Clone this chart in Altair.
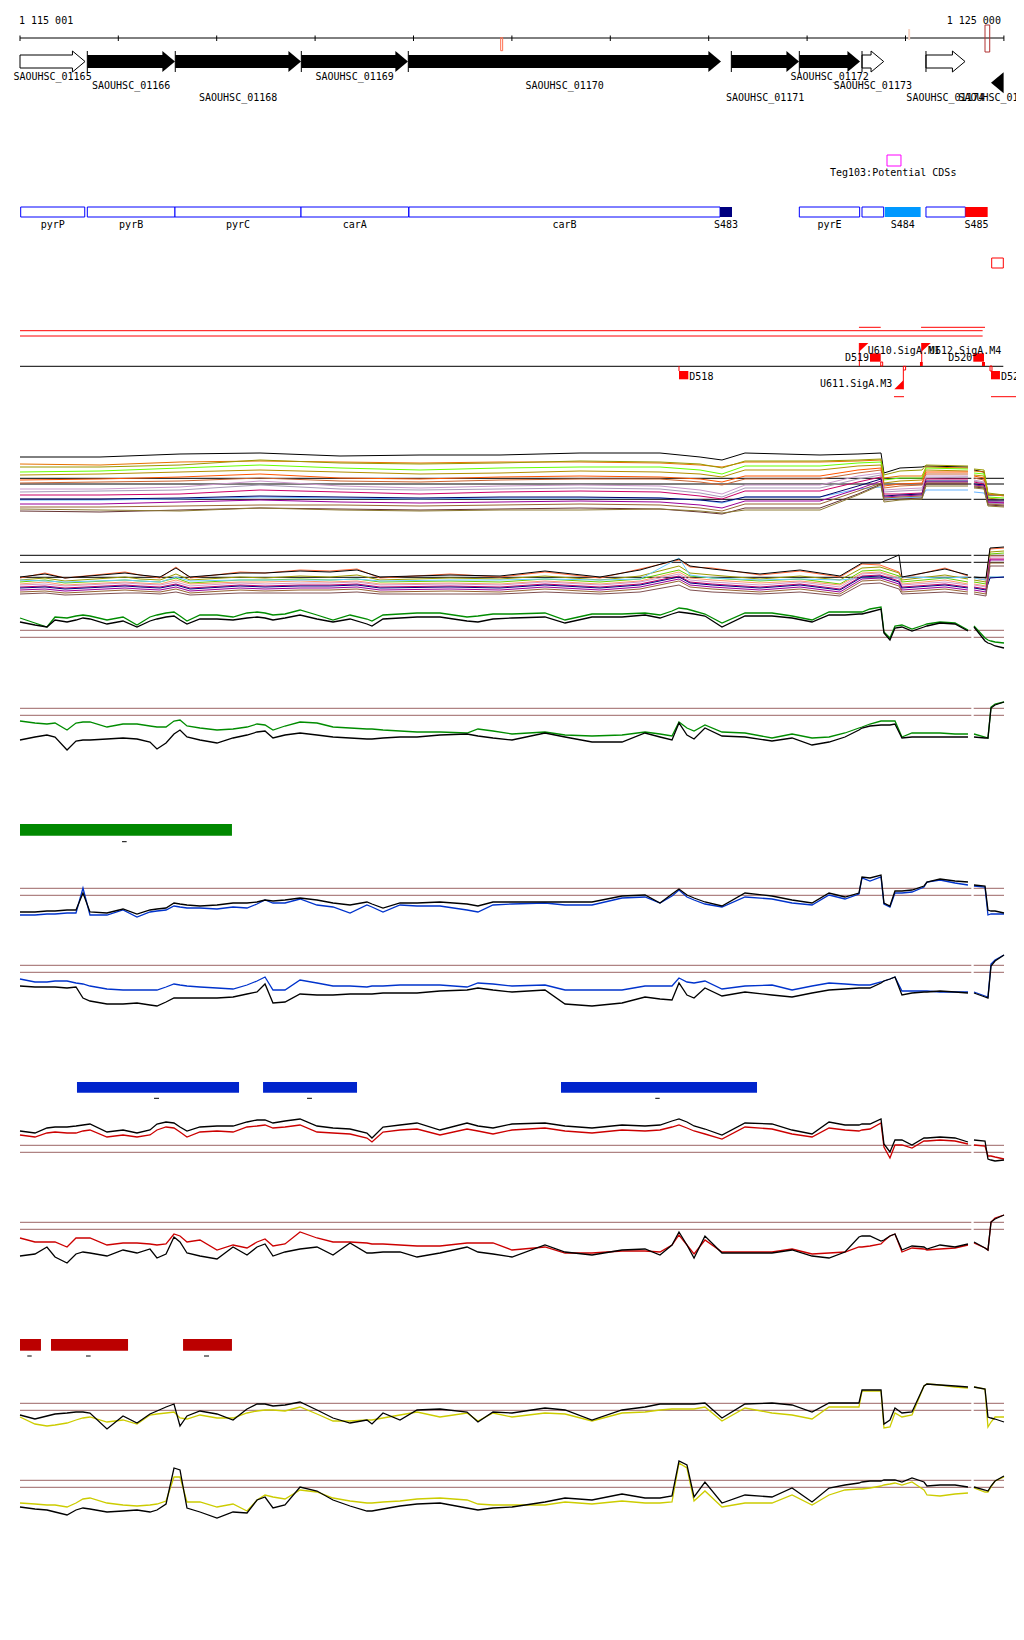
import altair as alt
import pandas as pd

FONT = "DejaVu Sans Mono"
OY = 8  # page y of the plot area's top edge

# ---------------- data: positions are kb offsets from 1 115 001 ----------------
RULER_TICKS = [0, 0.999, 1.999, 2.999, 3.999, 4.999, 5.999, 6.999, 7.999, 8.999, 9.999]

GENE_NAMES = ["SAOUHSC_01165", "SAOUHSC_01166", "SAOUHSC_01168", "SAOUHSC_01169", "SAOUHSC_01170",
              "SAOUHSC_01171", "SAOUHSC_01172", "SAOUHSC_01173", "SAOUHSC_01174", "SAOUHSC_01175"]
GENE_START = [0.0, 0.684, 1.578, 2.859, 3.946, 7.229, 7.920, 8.557, 9.207, 9.868]
GENE_END = [0.661, 1.575, 2.856, 3.943, 7.124, 7.917, 8.537, 8.777, 9.604, 10.3]
GENE_STRAND = ["+", "+", "+", "+", "+", "+", "+", "+", "+", "-"]
GENE_FILLED = [False, True, True, True, True, True, True, False, False, True]
GENE_LANE = [0, 1, 2, 0, 1, 2, 0, 1, 2, 2]

OP_NAMES = ["pyrP", "pyrB", "pyrC", "carA", "carB", "S483", "pyrE", "", "S484", "", "S485"]
OP_START = [0.007, 0.684, 1.575, 2.856, 3.953, 7.114, 7.920, 8.557, 8.788, 9.207, 9.607]
OP_END = [0.658, 1.575, 2.856, 3.950, 7.114, 7.236, 8.533, 8.777, 9.153, 9.607, 9.834]
OP_FILL = [None, None, None, None, None, "#000080", None, None, "#0099ff", None, "#ff0000"]

GRID_KB = [0.000, 0.152, 0.274, 0.356, 0.478, 0.569, 0.640, 0.711, 0.884, 1.047,
           1.189, 1.321, 1.392, 1.484, 1.565, 1.626, 1.697, 1.829, 2.002, 2.165,
           2.307, 2.409, 2.490, 2.571, 2.693, 2.846, 3.018, 3.181, 3.354, 3.526,
           3.577, 3.689, 3.862, 4.035, 4.268, 4.543, 4.654, 4.807, 5.000, 5.335,
           5.539, 5.813, 6.118, 6.352, 6.504, 6.626, 6.697, 6.778, 6.850, 6.961,
           7.134, 7.368, 7.642, 7.846, 8.049, 8.222, 8.384, 8.526, 8.557, 8.638,
           8.750, 8.780, 8.841, 8.892, 8.963, 9.065, 9.187, 9.217, 9.350, 9.502,
           9.634, 9.695, 9.807, 9.837, 9.868, 9.909, 10.000]
GRID_SPLIT = 71

C_GREEN = [42,37,33,43,42,44,45,44,40,43, 35,43,45,47,48,44,39,45,45,43, 47,48,47,45,46,50,45,40,45,41,
           39,45,46,47,47,43,44,46,46,47, 40,46,46,47,45,49,52,51,49,46, 37,47,47,44,40,48,48,48,48,51,
           53,28,22,34,35,31,35,36,38,37, 30,34,22,20,19,18,17]
C_BLACK = [38,35,33,40,38,40,42,41,36,39, 33,39,41,43,44,40,36,41,41,40, 42,43,42,40,42,45,41,38,41,36,
           34,41,42,43,43,39,38,41,42,43, 37,43,43,45,42,46,48,47,46,44, 33,44,44,42,38,45,45,46,46,48,
           51,27,20,32,33,29,33,34,37,36, 29,33,19,17,16,14,12]
D_GREEN = [39,37,36,37,30,37,38,38,33,36, 36,34,33,33,39,40,34,32,30,31, 33,36,35,30,34,38,37,33,32,31,
           31,30,29,28,28,27,31,29,26,28, 25,24,25,28,26,24,38,32,29,35, 28,27,22,26,22,23,27,32,33,36,
           39,39,39,39,23,27,27,27,27,26, 26,26,23,22,53,56,58]
D_BLACK = [20,23,25,23,10,19,20,20,21,22, 21,18,11,17,26,30,23,20,17,22, 25,28,29,22,25,27,25,23,22,21,
           21,22,23,23,25,26,24,22,20,27, 23,18,18,27,23,20,37,25,21,32, 24,23,19,22,15,18,23,30,32,34,
           35,35,35,36,22,23,23,23,23,23, 23,23,22,22,52,55,58]
E_BLUE = [15,15,16,16,17,17,42,15,15,20, 13,18,19,20,24,23,22,22,21,23, 22,26,30,27,27,31,25,23,17,25,
          23,18,25,24,24,20,18,25,26,27, 25,25,32,33,27,34,40,33,30,26, 23,33,31,27,25,35,31,36,52,49,
          53,26,23,37,37,38,43,48,50,47, 45,44,43,15,16,16,16]
E_BLACK = [18,18,19,19,20,20,37,18,17,21, 16,20,21,22,27,26,25,24,25,27, 27,28,30,29,30,32,30,27,25,28,
           26,22,27,27,28,26,24,28,28,28, 28,28,34,35,27,36,41,35,32,28, 24,37,34,30,27,37,33,37,53,52,
           55,27,24,39,39,40,44,48,51,49, 48,45,44,20,19,19,17]
F_BLUE = [41,38,38,39,39,37,36,34,31,30, 30,30,30,33,36,35,34,33,32,31, 35,39,43,30,30,40,37,34,34,33,
          34,34,35,35,35,33,37,36,34,35, 30,30,30,34,34,34,42,38,37,39, 31,34,35,30,34,37,36,35,35,35,
          38,39,41,43,29,29,29,29,28,28, 28,28,24,23,56,60,65]
F_BLACK = [34,33,33,33,32,33,22,19,16,16, 17,15,14,18,22,22,22,22,22,23, 26,28,36,17,18,26,25,25,26,26,
           26,27,27,27,29,30,32,30,28,30, 16,14,17,23,21,20,37,25,22,32, 24,28,25,23,27,30,31,32,32,32,
           37,39,41,43,25,27,28,28,29,28, 27,27,23,22,54,59,65]
G_RED = [35,33,37,38,37,37,39,40,33,35, 33,35,40,43,42,38,33,38,39,38, 43,44,45,42,43,45,38,37,36,32,
         28,38,40,41,35,41,39,36,40,42, 39,37,40,39,40,43,45,42,39,36, 31,43,41,36,33,42,40,39,40,41,
         47,23,12,25,25,22,29,29,30,29, 26,25,24,14,14,13,11]
G_BLACK = [39,37,42,43,43,44,45,46,38,40, 37,40,46,48,47,43,39,43,44,44, 48,50,50,47,49,51,44,42,41,37,
           32,43,45,47,40,47,44,42,46,47, 44,42,45,44,45,49,51,48,44,41, 35,47,46,40,36,48,45,45,46,46,
           51,26,18,30,30,25,32,32,33,32, 28,30,29,11,10,9,10]
H_RED = [32,28,28,28,23,32,32,32,25,27, 27,26,25,26,36,34,28,30,20,25, 22,28,31,24,26,38,32,28,28,27,
         26,26,25,24,24,27,27,27,20,23, 17,17,19,19,18,25,35,25,16,30, 18,18,18,21,16,17,18,23,23,24,
         26,29,34,36,18,22,21,20,21,22, 25,27,22,20,48,52,55]
H_BLACK = [14,16,23,13,7,16,18,17,14,20, 17,21,12,16,33,28,17,14,11,23, 15,23,26,14,18,21,23,15,27,17,
           17,18,18,13,17,23,18,16,13,25, 18,15,20,21,15,25,38,25,12,34, 17,17,17,20,14,12,18,33,34,34,
           29,30,34,36,20,24,23,21,25,23, 26,28,22,20,48,51,55]
I_YELLOW = [23,16,14,15,17,20,22,23,18,20, 16,25,26,27,28,22,21,25,22,22, 27,29,30,30,29,33,26,19,19,20,
            20,22,25,28,23,27,19,27,23,27, 26,19,27,28,30,31,31,31,31,33, 19,32,27,25,21,33,33,33,49,49,
            49,12,13,27,23,25,54,56,55,53, 52,53,51,13,18,23,23]
I_BLACK = [25,21,24,26,27,28,28,27,11,24, 17,26,29,33,36,14,24,29,26,20, 31,36,36,34,35,38,30,22,17,20,
           16,27,20,30,31,28,18,28,27,32, 30,20,30,33,36,36,36,36,36,37, 22,36,37,35,28,37,37,37,50,50,
           50,16,20,32,27,28,54,56,55,54, 53,53,51,23,22,21,18]
J_YELLOW = [27,26,25,25,23,27,31,32,27,25, 24,25,26,29,53,53,28,28,23,26, 19,30,35,33,31,40,38,32,29,27,
            27,28,29,31,32,30,26,25,25,25, 28,26,29,27,27,28,67,62,29,39, 23,27,27,35,25,35,40,41,41,42,
            44,45,46,47,45,48,40,35,34,36, 37,42,38,38,43,49,53]
J_BLACK = [23,21,20,18,15,20,22,21,18,19, 20,18,20,26,62,60,22,18,12,18, 17,30,33,22,25,43,39,30,24,19,
           19,21,24,26,27,22,20,22,23,28, 32,30,36,32,32,34,69,65,33,48, 27,35,33,42,28,42,45,47,48,49,
           49,50,50,50,48,52,48,44,45,45, 43,43,40,39,44,49,54]

BGRID_A = [0.000, 0.813, 1.626, 2.439, 3.252, 4.065, 4.878, 5.691, 6.504, 6.911, 7.134, 7.368,
           8.130, 8.516, 8.750, 8.780, 8.943, 9.167, 9.207, 9.634, 9.695, 9.797, 9.837, 10.000]
BSPLIT_A = 20
BUNDLE_A = [
    ("#000000", [63,63,66,67,64,65,65,67,67,63,60,67,65,66,67,47,52,53,54,53, 50,48,25,25]),
    ("#e67300", [56,55,58,59,58,57,58,58,57,55,53,58,58,59,60,42,44,44,53,52, 49,48,26,24]),
    ("#999900", [53,53,55,60,57,56,57,59,58,56,52,59,59,60,61,45,49,50,55,54, 51,50,27,25]),
    ("#66ff00", [48,49,52,55,52,50,52,53,53,50,46,54,54,57,58,40,42,42,52,51, 47,46,23,22]),
    ("#b38f00", [45,46,48,50,48,46,47,49,48,46,43,50,50,54,55,37,39,40,50,49, 45,44,22,20]),
    ("#ff5500", [40,41,43,46,42,41,43,44,43,41,38,44,44,50,52,34,36,37,48,48, 44,42,20,19]),
    ("#cc6633", [37,38,39,42,39,38,40,41,41,38,35,41,41,47,50,32,34,35,46,46, 42,40,19,18]),
    ("#cc99cc", [31,31,33,39,34,32,34,35,34,30,26,35,35,44,47,30,31,32,44,44, 40,38,17,17]),
    ("#a899b8", [28,29,30,35,31,30,31,32,31,27,23,32,32,41,45,28,29,30,42,43, 39,37,17,16]),
    ("#cc0066", [25,25,26,30,28,26,28,29,28,24,21,29,29,38,43,26,26,27,41,41, 38,36,18,18]),
    ("#66b3ff", [20,20,21,23,22,21,22,22,22,20,17,23,23,31,33,21,22,23,30,30, 28,27,19,19]),
    ("#000066", [21,21,22,24,23,22,23,23,22,20,18,23,23,34,41,24,25,26,39,39, 36,35,20,20]),
    ("#990099", [16,16,18,20,18,17,18,19,18,15,12,19,19,31,39,23,24,25,38,38, 35,34,18,17]),
    ("#996633", [13,13,14,15,15,14,15,16,15,12,9,16,16,29,37,22,23,24,37,37, 34,33,16,15]),
    ("#663333", [9,8,10,12,11,10,11,12,11,8,6,12,12,26,36,20,21,22,36,36, 33,32,15,14]),
    ("#8c7a33", [11,10,9,12,10,9,10,10,11,9,7,10,10,25,35,18,20,21,34,34, 32,31,14,13]),
]

BGRID_B = [0.000, 0.254, 0.457, 1.067, 1.220, 1.423, 1.585, 1.728, 2.236, 2.490, 2.846, 3.150,
           3.425, 3.659, 4.370, 4.878, 5.335, 5.894, 6.301, 6.697, 6.809, 7.033, 7.520, 7.927,
           8.333, 8.557, 8.740, 8.933, 8.963, 9.400, 9.634, 9.695, 9.817, 9.858, 10.000]
BSPLIT_B = 31
BUNDLE_B = [
    ("#ff6633", [22,27,22,28,25,22,33,22,28,27,30,29,31,22,26,23,28,22,31,40,33,32,25,29,23,36,35,28,22,32,24, 22,20,51,52]),
    ("#999900", [20,22,19,23,21,20,26,20,23,22,24,23,25,20,22,21,24,20,24,34,27,25,21,24,20,32,33,27,20,25,21, 20,18,48,49]),
    ("#66cc00", [18,20,17,20,19,18,22,17,20,20,21,20,21,18,19,18,21,18,21,30,24,22,19,21,16,29,30,24,18,22,18, 18,16,46,47]),
    ("#ff9966", [16,18,15,18,17,16,20,16,18,18,19,18,19,16,17,16,19,16,19,28,22,20,17,19,15,27,28,22,16,20,16, 16,14,44,44]),
    ("#66ccff", [20,19,18,20,19,18,23,19,20,20,20,20,21,19,20,20,21,20,21,42,25,22,20,21,20,22,22,22,23,22,23, 22,20,23,23]),
    ("#cc99cc", [15,16,14,17,16,15,18,14,17,16,17,17,18,15,16,15,18,15,18,26,20,18,15,18,13,26,27,21,15,18,15, 15,13,43,43]),
    ("#cc0066", [13,14,12,15,14,13,16,12,15,14,15,15,16,13,14,13,16,13,16,24,18,16,13,16,11,24,25,19,13,16,13, 13,11,41,41]),
    ("#000080", [12,13,11,14,13,12,15,11,14,13,14,14,15,12,13,12,15,12,15,23,17,15,12,15,10,23,24,18,12,15,12, 12,10,22,23]),
    ("#990099", [10,11,9,12,11,10,13,9,12,11,12,12,13,10,11,10,13,10,13,21,15,13,10,13,8,21,22,16,10,13,10, 10,8,40,40]),
    ("#996633", [8,9,7,10,9,8,11,7,10,9,10,10,11,8,9,8,11,8,11,19,13,11,8,11,6,19,20,14,8,11,8, 8,6,37,37]),
    ("#805050", [6,7,5,7,7,6,8,5,7,7,7,7,8,6,6,6,8,6,8,15,10,8,6,8,4,16,17,11,6,8,6, 6,4,34,34]),
    ("#000000", [23,26,22,27,25,23,32,23,27,27,29,28,30,23,25,24,29,23,30,41,34,31,26,30,24,37,37,45,23,31,25, 23,22,52,53]),
]

REF_GAP = (9.668, 9.692)

GREEN_BAR = ([0.0], [2.154])
GREEN_DASH = ([1.037], [1.084])
BLUE_BARS = ([0.579, 2.470, 5.498], [2.226, 3.425, 7.490])
BLUE_DASH = ([1.362, 2.917, 6.456], [1.413, 2.967, 6.501])
RED_BARS = ([0.0, 0.315, 1.657], [0.213, 1.098, 2.154])
RED_DASH = ([0.074, 0.671, 1.870], [0.119, 0.718, 1.921])

# ---------------- helpers ----------------
XS = alt.Scale(domain=[0, 10], nice=False, zero=False)


def X():
    return alt.X("kb:Q", scale=XS, axis=None)


def py(v):
    return v - OY


def yscale(top, bottom):
    return alt.Scale(domain=[0, bottom - top], range=[bottom - OY, top - OY], nice=False, zero=False)


def hrule(x0, x1, y, color, sw=1.0):
    df = pd.DataFrame({"kb": x0, "kb2": x1})
    return alt.Chart(df).mark_rule(color=color, strokeWidth=sw).encode(
        x=X(), x2="kb2:Q", y=alt.value(py(y)))


def vrule(xs, y0, y1, color, sw=1.0):
    df = pd.DataFrame({"kb": xs})
    return alt.Chart(df).mark_rule(color=color, strokeWidth=sw).encode(
        x=X(), y=alt.value(py(y0)), y2=alt.value(py(y1)))


def box(x0, x1, y0, y1, fill=None, stroke=None, sw=1.0):
    df = pd.DataFrame({"kb": x0, "kb2": x1})
    kw = {}
    if fill is None:
        kw.update(fill="white", fillOpacity=0)
    else:
        kw.update(fill=fill)
    if stroke:
        kw.update(stroke=stroke, strokeWidth=sw)
    else:
        kw.update(strokeWidth=0)
    return alt.Chart(df).mark_rect(**kw).encode(
        x=X(), x2="kb2:Q", y=alt.value(py(y0)), y2=alt.value(py(y1)))


def label(xs, texts, y, align="center", dx=0, color="black"):
    df = pd.DataFrame({"kb": xs, "t": texts})
    return alt.Chart(df).mark_text(font=FONT, fontSize=10, align=align, baseline="middle",
                                   dx=dx, color=color).encode(
        x=X(), y=alt.value(py(y)), text="t:N")


def sym(xs, y, shape, size, fill, stroke=None, sw=0.0):
    df = pd.DataFrame({"kb": xs})
    return alt.Chart(df).mark_point(shape=shape, size=size, filled=True, fill=fill,
                                    stroke=stroke if stroke else fill, strokeWidth=sw,
                                    opacity=1).encode(x=X(), y=alt.value(py(y)))


def series_df(grid, split, named):
    rows = []
    for name, vals in named:
        assert len(vals) == len(grid), (name, len(vals), len(grid))
        for i, (k, v) in enumerate(zip(grid, vals)):
            rows.append({"kb": k, "v": v, "series": name, "seg": 0 if i < split else 1})
    return pd.DataFrame(rows)


def lines(grid, split, named, colors, top, bottom, sw=1.0):
    df = series_df(grid, split, named)
    return alt.Chart(df).mark_line(strokeWidth=sw, interpolate="linear").encode(
        x=X(),
        y=alt.Y("v:Q", scale=yscale(top, bottom), axis=None),
        color=alt.Color("series:N", scale=alt.Scale(domain=[n for n, _ in named], range=colors),
                        legend=None),
        detail="seg:N",
    )


def refs(levels, color, top, bottom):
    rows = []
    for lv in levels:
        rows.append({"kb": 0.0, "kb2": REF_GAP[0], "v": lv})
        rows.append({"kb": REF_GAP[1], "kb2": 10.0, "v": lv})
    return alt.Chart(pd.DataFrame(rows)).mark_rule(color=color, strokeWidth=1).encode(
        x=X(), x2="kb2:Q", y=alt.Y("v:Q", scale=yscale(top, bottom), axis=None))


L = []

# ---------------- ruler ----------------
L.append(hrule([0], [9.999], 38, "black"))
L.append(vrule(RULER_TICKS, 35.5, 41, "black"))
L.append(label([0], ["1 115 001"], 20.5, align="left", dx=-1))
L.append(label([9.999], ["1 125 000"], 20.5, align="right", dx=-3))
L.append(box([4.885], [4.905], 37.7, 50.7, None, "#ff7050"))
L.append(box([9.026], [9.046], 29, 40, "#f6d5c5"))
L.append(box([9.807], [9.855], 25, 52, None, "#b03030"))

# ---------------- genes ----------------
HEAD_KB = 0.128
P_FWD = "M-1.2,-1L0,0L-1.2,1Z"
P_FWD_OPEN = "M-1.2,-0.62L-1.2,-1L0,0L-1.2,1L-1.2,0.62"
P_REV = "M1.2,-1L0,0L1.2,1Z"
fb = [i for i in range(len(GENE_NAMES)) if GENE_STRAND[i] == "+" and GENE_FILLED[i]]
fo = [i for i in range(len(GENE_NAMES)) if GENE_STRAND[i] == "+" and not GENE_FILLED[i]]
rv = [i for i in range(len(GENE_NAMES)) if GENE_STRAND[i] == "-"]
L.append(box([GENE_START[i] for i in fb], [GENE_END[i] - HEAD_KB + 0.01 for i in fb], 55, 68, "black"))
L.append(sym([GENE_END[i] for i in fb], 61.5, P_FWD, 441, "black"))
L.append(box([GENE_START[i] for i in fo], [GENE_END[i] - HEAD_KB + 0.02 for i in fo], 55, 68, "white", "black"))
L.append(sym([GENE_END[i] for i in fo], 61.5, P_FWD_OPEN, 441, "white", "black", 1.0))
L.append(sym([GENE_START[i] for i in rv], 82.7, P_REV, 441, "black"))
L.append(vrule(GENE_START[1:9], 51, 72, "black"))
LANE_Y = [77, 86, 98]
for lane in range(3):
    idx = [i for i in range(len(GENE_NAMES)) if GENE_LANE[i] == lane]
    mids = [(max(GENE_START[i], 0) + min(GENE_END[i], 10)) / 2 for i in idx]
    L.append(label(mids, [GENE_NAMES[i] for i in idx], LANE_Y[lane]))

# Teg103
L.append(box([8.811], [8.953], 155, 166, None, "#ff00ff"))
L.append(label([8.874], ["Teg103:Potential CDSs"], 172.7))

# ---------------- operon / transcript features ----------------
oo = [i for i in range(len(OP_NAMES)) if OP_FILL[i] is None]
L.append(box([OP_START[i] for i in oo], [OP_END[i] for i in oo], 207, 217, "white", "#0000ff"))
for i in range(len(OP_NAMES)):
    if OP_FILL[i] is not None:
        L.append(box([OP_START[i]], [OP_END[i]], 207, 217, OP_FILL[i]))
lab = [i for i in range(len(OP_NAMES)) if OP_NAMES[i]]
L.append(label([(OP_START[i] + OP_END[i]) / 2 for i in lab], [OP_NAMES[i] for i in lab], 224.7))

L.append(box([9.875], [9.993], 258, 268, None, "#ff0000"))

# ---------------- promoter / terminator track ----------------
RED = "#ff0000"
L.append(hrule([0], [9.783], 330.7, RED))
L.append(hrule([0], [9.783], 336, RED))
L.append(hrule([8.526, 9.157], [8.747, 9.807], 327.3, RED))
L.append(hrule([8.882, 9.868], [8.984, 10.2], 396.7, RED))
L.append(hrule([0], [9.993], 366.3, "black"))
L.append(box([8.638, 9.688], [8.747, 9.797], 353.3, 361.7, RED))
L.append(box([6.697, 9.868], [6.792, 9.959], 371, 379.3, RED))
L.append(box([8.747], [8.767], 362, 366, None, RED))
L.append(box([8.977], [9.0], 366.3, 370, None, RED))
L.append(box([9.858], [9.878], 366, 371, None, RED))
L.append(box([9.146, 9.776], [9.174, 9.807], 362, 366, RED))
L.append(vrule([6.697], 366, 371, RED))
L.append(vrule([8.530, 9.164], 343, 366, RED))
L.append(vrule([8.977], 370, 389.3, RED))
L.append(sym([8.530, 9.164], 343, "M0,0L1,0L0,0.95Z", 324, RED))
L.append(sym([8.977], 389.3, "M0,0L-1,0L0,-1Z", 324, RED))
L.append(label([6.792, 9.959], ["D518", "D521"], 376.5, align="left", dx=1))
L.append(label([8.638, 9.688], ["D519", "D520"], 358, align="right", dx=-1))
L.append(label([8.615, 9.238], ["U610.SigA.M1", "U612.SigA.M4"], 350.6, align="left"))
L.append(label([8.865], ["U611.SigA.M3"], 384, align="right"))

# ---------------- expression tracks ----------------
BROWN = "#9c6464"
L.append(refs([41.7, 36.0, 20.7], "black", 440, 520))
L.append(lines(BGRID_A, BSPLIT_A, [(f"a{i}", v) for i, (_, v) in enumerate(BUNDLE_A)],
               [c for c, _ in BUNDLE_A], 440, 520))
L.append(refs([44.7, 37.7, 22.7], "black", 540, 600))
L.append(lines(BGRID_B, BSPLIT_B, [(f"b{i}", v) for i, (_, v) in enumerate(BUNDLE_B)],
               [c for c, _ in BUNDLE_B], 540, 600))

TRACKS = [
    (600, 660, [29.7, 22.7], C_GREEN, C_BLACK, "#008c00"),
    (690, 760, [51.7, 44.7], D_GREEN, D_BLACK, "#008c00"),
    (870, 930, [41.7, 34.7], E_BLUE, E_BLACK, "#0033cc"),
    (950, 1020, [54.7, 47.7], F_BLUE, F_BLACK, "#0033cc"),
    (1110, 1170, [24.7, 17.7], G_RED, G_BLACK, "#cc0000"),
    (1200, 1270, [47.7, 40.7], H_RED, H_BLACK, "#cc0000"),
    (1370, 1440, [36.7, 29.7], I_YELLOW, I_BLACK, "#cccc00"),
    (1450, 1530, [49.7, 42.7], J_YELLOW, J_BLACK, "#cccc00"),
]
for top, bottom, lv, col_vals, blk_vals, col in TRACKS:
    L.append(refs(lv, BROWN, top, bottom))
    L.append(lines(GRID_KB, GRID_SPLIT, [("sample", col_vals), ("control", blk_vals)],
                   [col, "#000000"], top, bottom, sw=1.3))

# ---------------- region bars ----------------
L.append(box(GREEN_BAR[0], GREEN_BAR[1], 824, 835.7, "#008800"))
L.append(hrule(GREEN_DASH[0], GREEN_DASH[1], 841.7, "black"))
L.append(box(BLUE_BARS[0], BLUE_BARS[1], 1082, 1092.7, "#0024cc"))
L.append(hrule(BLUE_DASH[0], BLUE_DASH[1], 1098.3, "black"))
L.append(box(RED_BARS[0], RED_BARS[1], 1339, 1350.7, "#bb0000"))
L.append(hrule(RED_DASH[0], RED_DASH[1], 1356, "black"))

chart = (
    alt.layer(*L)
    .resolve_scale(y="independent", color="independent")
    .properties(width=984, height=1600, autosize=alt.AutoSizeParams(type="none"),
                padding={"left": 12, "top": 0, "right": 12, "bottom": 0})
    .configure_view(stroke=None)
)

chart.save("out.html", embed_options={"renderer": "svg", "actions": False})
